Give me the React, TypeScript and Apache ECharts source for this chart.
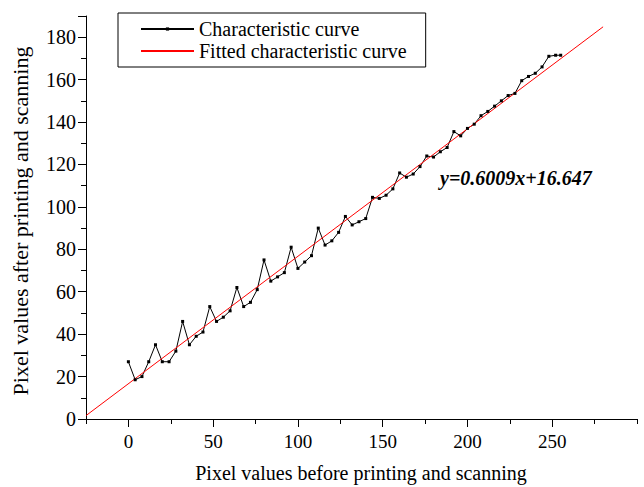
import React, { useEffect, useRef } from "react";
import * as echarts from "echarts";

const xValues = [
  0, 4, 8, 12, 16, 20, 24, 28, 32, 36, 40, 44, 48, 52, 56, 60,
  64, 68, 72, 76, 80, 84, 88, 92, 96, 100, 104, 108, 112, 116, 120, 124,
  128, 132, 136, 140, 144, 148, 152, 156, 160, 164, 168, 172, 176, 180, 184, 188,
  192, 196, 200, 204, 208, 212, 216, 220, 224, 228, 232, 236, 240, 244, 248, 252, 255,
];
const yValues = [
  27, 18.5, 20, 27, 35, 27, 27, 32, 46, 35, 39, 41, 53, 46, 48, 51,
  62, 53, 55, 61, 75, 65, 67, 69, 81, 71, 74, 77, 90, 82, 84, 88,
  95.5, 91.5, 93, 94.5, 104.5, 104, 105.5, 108.5, 116, 114, 115.5, 119, 124, 123.5, 126, 128,
  135.5, 133.5, 137, 139, 143, 145, 147.5, 150, 152.5, 153.5, 159.5, 161.5, 163, 166, 171, 171.5, 171.5,
];
const fitX = [-25, 280];
const fitY = [1.6, 184.9];

const seriesNames = ["Characteristic curve", "Fitted characteristic curve"];
const xTitle = "Pixel values before printing and scanning";
const yTitle = "Pixel values after printing and scanning";
const equation = "y=0.6009x+16.647";

const FONT = '"Liberation Serif", "Times New Roman", serif';

export default function App() {
  const ref = useRef<HTMLDivElement>(null);
  useEffect(() => {
    if (!ref.current) return;
    const chart = echarts.init(ref.current, null, { renderer: "svg" });
    const curve = xValues.map((x, i) => [x, yValues[i]]);
    const fit = fitX.map((x, i) => [x, fitY[i]]);
    const black = "#000";
    chart.setOption({
      animation: false,
      backgroundColor: "#fff",
      grid: {
        left: 86,
        right: 7,
        top: 16,
        bottom: 68,
        containLabel: false,
        outerBoundsMode: "none",
      },
      legend: {
        orient: "vertical",
        left: 118,
        top: 13,
        padding: [6, 19, 6, 22],
        itemGap: 2,
        itemWidth: 53,
        itemHeight: 4,
        borderColor: black,
        borderWidth: 1,
        backgroundColor: "#fff",
        textStyle: { fontFamily: FONT, fontSize: 20, color: black },
        data: [
          { name: seriesNames[0] },
          {
            name: seriesNames[1],
            itemStyle: { color: "rgba(0,0,0,0)", borderColor: "rgba(0,0,0,0)", borderWidth: 0 },
          },
        ],
      },
      xAxis: [
        {
          type: "value",
          min: -25,
          max: 300,
          splitNumber: 6,
          position: "bottom",
          axisLine: { show: true, onZero: false, lineStyle: { color: black, width: 1 } },
          axisTick: { show: true, length: 8, inside: false, lineStyle: { color: black, width: 1 } },
          axisLabel: {
            show: true,
            margin: 13,
            color: black,
            fontFamily: FONT,
            fontSize: 19,
            showMinLabel: false,
            showMaxLabel: false,
            formatter: (v: number) => (v < 0 || v > 250 ? "" : String(v)),
          },
          splitLine: { show: false },
        },
        {
          type: "value",
          min: -25,
          max: 300,
          interval: 25,
          position: "bottom",
          axisLine: { show: false, onZero: false },
          axisTick: { show: true, length: 5, inside: false, lineStyle: { color: black, width: 1 } },
          axisLabel: { show: false },
          splitLine: { show: false },
        },
      ],
      yAxis: [
        {
          type: "value",
          min: 0,
          max: 190,
          interval: 20,
          position: "left",
          axisLine: { show: true, onZero: false, lineStyle: { color: black, width: 1 } },
          axisTick: { show: true, length: 8, inside: false, lineStyle: { color: black, width: 1 } },
          axisLabel: {
            show: true,
            margin: 10,
            color: black,
            fontFamily: FONT,
            fontSize: 20,
            formatter: (v: number) => (v > 180 ? "" : String(v)),
          },
          splitLine: { show: false },
        },
        {
          type: "value",
          min: 0,
          max: 190,
          interval: 10,
          position: "left",
          axisLine: { show: false, onZero: false },
          axisTick: { show: true, length: 5, inside: false, lineStyle: { color: black, width: 1 } },
          axisLabel: { show: false },
          splitLine: { show: false },
        },
      ],
      series: [
        {
          name: seriesNames[0],
          type: "line",
          xAxisIndex: 0,
          yAxisIndex: 0,
          data: curve,
          symbol: "rect",
          symbolSize: 3,
          showAllSymbol: true,
          itemStyle: { color: black },
          lineStyle: { color: black, width: 1 },
          emphasis: { disabled: true },
        },
        {
          name: seriesNames[1],
          type: "line",
          xAxisIndex: 0,
          yAxisIndex: 0,
          data: fit,
          symbol: "none",
          itemStyle: { color: "#ff0000" },
          lineStyle: { color: "#ff0000", width: 1 },
          emphasis: { disabled: true },
        },
      ],
      graphic: [
        {
          type: "text",
          x: 440,
          y: 178,
          style: {
            text: equation,
            font: `italic bold 20px ${FONT}`,
            fill: black,
            textAlign: "left",
            textVerticalAlign: "middle",
          },
        },
        {
          type: "text",
          x: 361,
          y: 473,
          style: {
            text: xTitle,
            font: `20px ${FONT}`,
            fill: black,
            textAlign: "center",
            textVerticalAlign: "middle",
          },
        },
        {
          type: "text",
          x: 20,
          y: 221,
          rotation: Math.PI / 2,
          style: {
            text: yTitle,
            font: `22px ${FONT}`,
            fill: black,
            textAlign: "center",
            textVerticalAlign: "middle",
          },
        },
      ],
    });
    return () => chart.dispose();
  }, []);
  return (
    <div
      ref={ref}
      style={{ position: "fixed", left: 0, top: 0, width: 644, height: 487 }}
    />
  );
}
